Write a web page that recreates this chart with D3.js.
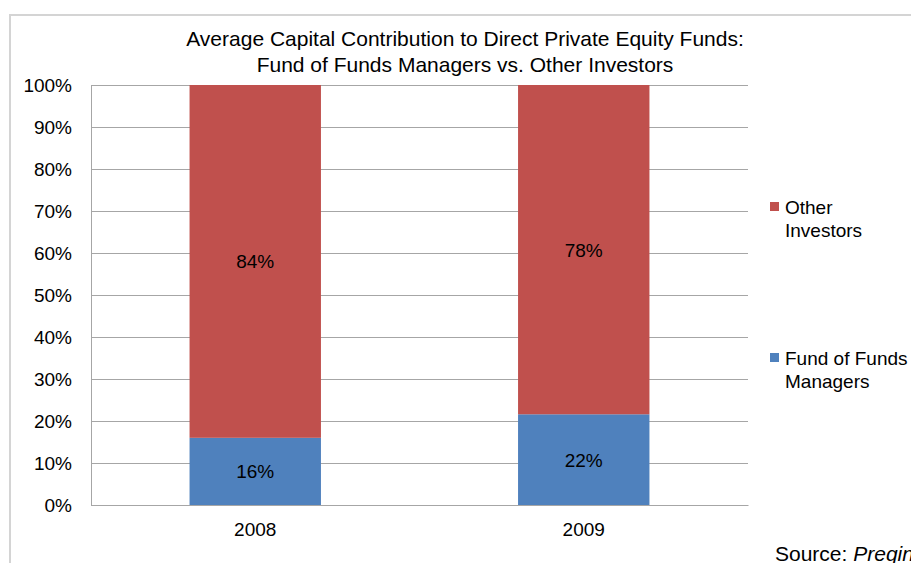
<!DOCTYPE html>
<html>
<head>
<meta charset="utf-8">
<script src="https://cdn.jsdelivr.net/npm/d3@7"></script>
<style>
  body { margin: 0; background: #fff; }
  text { font-family: "Liberation Sans", Arial, sans-serif; fill: #000; }
</style>
</head>
<body>
<div id="chart"></div>
<script>
// data
var years = ["2008", "2009"];
var fundOfFunds = [16, 21.6];
var otherInvestors = [84, 78.4];
var seriesNames = ["Fund of Funds Managers", "Other Investors"];
var yTicks = [0, 10, 20, 30, 40, 50, 60, 70, 80, 90, 100];
var titleLines = ["Average Capital Contribution to Direct Private Equity Funds:",
                  "Fund of Funds Managers vs. Other Investors"];

var colors = {"Fund of Funds Managers": "#4F81BD", "Other Investors": "#C0504D"};

var W = 911, H = 563;
var margin = {top: 85, right: 163, bottom: 58, left: 91},
    width = W - margin.left - margin.right,
    height = H - margin.top - margin.bottom;

var svg = d3.select("#chart").append("svg")
    .attr("width", W).attr("height", H);

// outer chart border (runs off the page on right and bottom)
svg.append("path")
    .attr("d", "M10," + (H + 5) + "V15H" + (W + 5))
    .attr("fill", "none")
    .attr("stroke", "#d4d4d4")
    .attr("stroke-width", 2);

// title
svg.append("g").selectAll("text")
    .data(titleLines).enter().append("text")
    .attr("x", 465)
    .attr("y", function(d, i) { return 46 + i * 26; })
    .attr("text-anchor", "middle")
    .style("font-size", "21px")
    .text(function(d) { return d; });

var g = svg.append("g")
    .attr("transform", "translate(" + margin.left + "," + margin.top + ")");

var x = d3.scaleBand().domain(years).range([0, width]).paddingInner(0.6).paddingOuter(0.3);
var y = d3.scaleLinear().domain([0, 100]).range([height, 0]);

// gridlines
g.append("g").selectAll("line")
    .data(yTicks).enter().append("line")
    .attr("x1", 0).attr("x2", width)
    .attr("y1", function(d) { return Math.round(y(d)) + 0.5; })
    .attr("y2", function(d) { return Math.round(y(d)) + 0.5; })
    .attr("stroke", "#a6a6a6")
    .attr("stroke-width", 1);

// stack the data
var rows = years.map(function(yr, i) {
  return {year: yr, "Fund of Funds Managers": fundOfFunds[i], "Other Investors": otherInvestors[i]};
});
var stack = d3.stack().keys(seriesNames)(rows);

var layers = g.selectAll(".layer")
    .data(stack).enter().append("g")
    .attr("class", "layer")
    .attr("fill", function(d) { return colors[d.key]; });

layers.selectAll("rect")
    .data(function(d) { return d; }).enter().append("rect")
    .attr("x", function(d) { return x(d.data.year); })
    .attr("width", x.bandwidth())
    .attr("y", function(d) { return y(d[1]); })
    .attr("height", function(d) { return y(d[0]) - y(d[1]); });

// value labels
layers.selectAll("text")
    .data(function(d) { return d; }).enter().append("text")
    .attr("x", function(d) { return x(d.data.year) + x.bandwidth() / 2; })
    .attr("y", function(d) { return (y(d[0]) + y(d[1])) / 2 + 7; })
    .attr("text-anchor", "middle")
    .style("font-size", "19px")
    .text(function(d) { return Math.round(d[1] - d[0]) + "%"; });

// y axis
var yAxis = g.append("g")
    .call(d3.axisLeft(y).tickValues(yTicks).tickSize(0).tickPadding(19)
      .tickFormat(function(d) { return d + "%"; }));
yAxis.select(".domain").attr("stroke", "#a6a6a6");
yAxis.selectAll("text").style("font-size", "19px").attr("dy", "0.35em");

// x axis
var xAxis = g.append("g")
    .attr("transform", "translate(0," + height + ")")
    .call(d3.axisBottom(x).tickSize(0).tickPadding(18));
xAxis.select(".domain").attr("stroke", "#a6a6a6");
xAxis.selectAll("text").style("font-size", "19px");

// legend
var legendItems = [
  {key: "Other Investors", lines: ["Other", "Investors"], y: 207},
  {key: "Fund of Funds Managers", lines: ["Fund of Funds", "Managers"], y: 358}
];
var leg = svg.append("g").selectAll("g")
    .data(legendItems).enter().append("g")
    .attr("transform", function(d) { return "translate(770," + d.y + ")"; });
leg.append("rect")
    .attr("x", 0).attr("y", -5)
    .attr("width", 9).attr("height", 9)
    .attr("fill", function(d) { return colors[d.key]; });
leg.append("text")
    .style("font-size", "19px")
    .selectAll("tspan")
    .data(function(d) { return d.lines; }).enter().append("tspan")
    .attr("x", 15)
    .attr("y", function(d, i) { return 7 + i * 23; })
    .text(function(d) { return d; });

// source note
var src = svg.append("text")
    .attr("x", 775).attr("y", 561)
    .style("font-size", "21px");
src.append("tspan").text("Source: ");
src.append("tspan").style("font-style", "italic").text("Preqin");
</script>
</body>
</html>
